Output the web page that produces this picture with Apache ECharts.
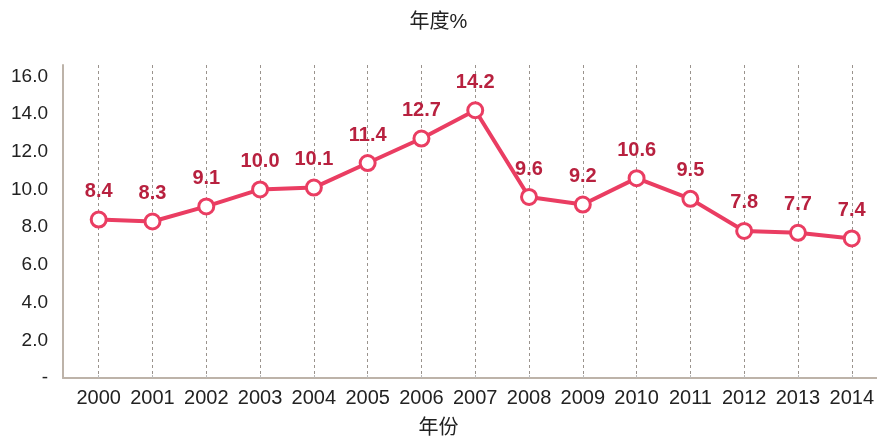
<!DOCTYPE html>
<html><head><meta charset="utf-8">
<script src="https://cdn.jsdelivr.net/npm/echarts@6/dist/echarts.min.js"></script>
<style>html,body{margin:0;padding:0;background:#fff}#c{width:877px;height:441px}</style>
</head><body><div id="c"></div>
<script>
const years = ['2000','2001','2002','2003','2004','2005','2006','2007','2008','2009','2010','2011','2012','2013','2014'];
const values = [8.4, 8.3, 9.1, 10.0, 10.1, 11.4, 12.7, 14.2, 9.6, 9.2, 10.6, 9.5, 7.8, 7.7, 7.4];
const chartTitle = '年度%';
const xName = '年份';

const FONT = '"Liberation Sans", Arial, "Noto Sans CJK SC", sans-serif';
const chart = echarts.init(document.getElementById('c'), null, {renderer: 'canvas'});
chart.setOption({
  backgroundColor: '#fff',
  animation: false,
  textStyle: {fontFamily: FONT},
  title: [
    {text: chartTitle, left: 'center', top: 7, textStyle: {fontSize: 20, fontWeight: 'normal', color: '#222', fontFamily: FONT}},
    {text: xName, left: 'center', top: 413, textStyle: {fontSize: 20, fontWeight: 'normal', color: '#222', fontFamily: FONT}}
  ],
  grid: [
    {left: 63, right: 0, top: 65, bottom: 63},
    {left: 98.7, right: 21.3, top: 65, bottom: 63}
  ],
  xAxis: [
    {gridIndex: 0, type: 'value', min: 0, max: 1,
     axisLine: {show: true, lineStyle: {color: '#bdb3a9', width: 2}},
     axisTick: {show: false}, axisLabel: {show: false}, splitLine: {show: false}},
    {gridIndex: 1, type: 'category', data: years, boundaryGap: false,
     axisLine: {show: false},
     axisTick: {show: true, inside: true, length: 3, interval: 0, lineStyle: {color: '#bbb'}},
     axisLabel: {fontSize: 20, color: '#222', margin: 10, interval: 0, fontFamily: FONT},
     splitLine: {show: true, interval: 0, lineStyle: {color: '#9a938d', type: [3, 3], width: 1}}}
  ],
  yAxis: [
    {gridIndex: 0, type: 'value', min: 0, max: 16.6, interval: 2,
     axisLine: {show: true, lineStyle: {color: '#bdb3a9', width: 2}},
     axisTick: {show: false},
     splitLine: {show: false},
     axisLabel: {fontSize: 19, color: '#222', margin: 15, showMaxLabel: false, fontFamily: FONT,
       formatter: v => (v === 0 ? '-' : (Math.abs(v % 2) < 1e-9 ? v.toFixed(1) : ''))}},
    {gridIndex: 1, type: 'value', min: 0, max: 16.6, show: false, splitLine: {show: false}}
  ],
  series: [{
    type: 'line', xAxisIndex: 1, yAxisIndex: 1,
    data: values,
    symbol: 'circle', symbolSize: 15,
    lineStyle: {color: '#ea3d62', width: 4},
    itemStyle: {color: '#fff', borderColor: '#ea3d62', borderWidth: 3},
    label: {show: true, position: 'top', distance: 9, fontSize: 20, fontWeight: 'bold', color: '#b8213f', fontFamily: FONT,
      formatter: p => p.value.toFixed(1)}
  }]
});
</script></body></html>
